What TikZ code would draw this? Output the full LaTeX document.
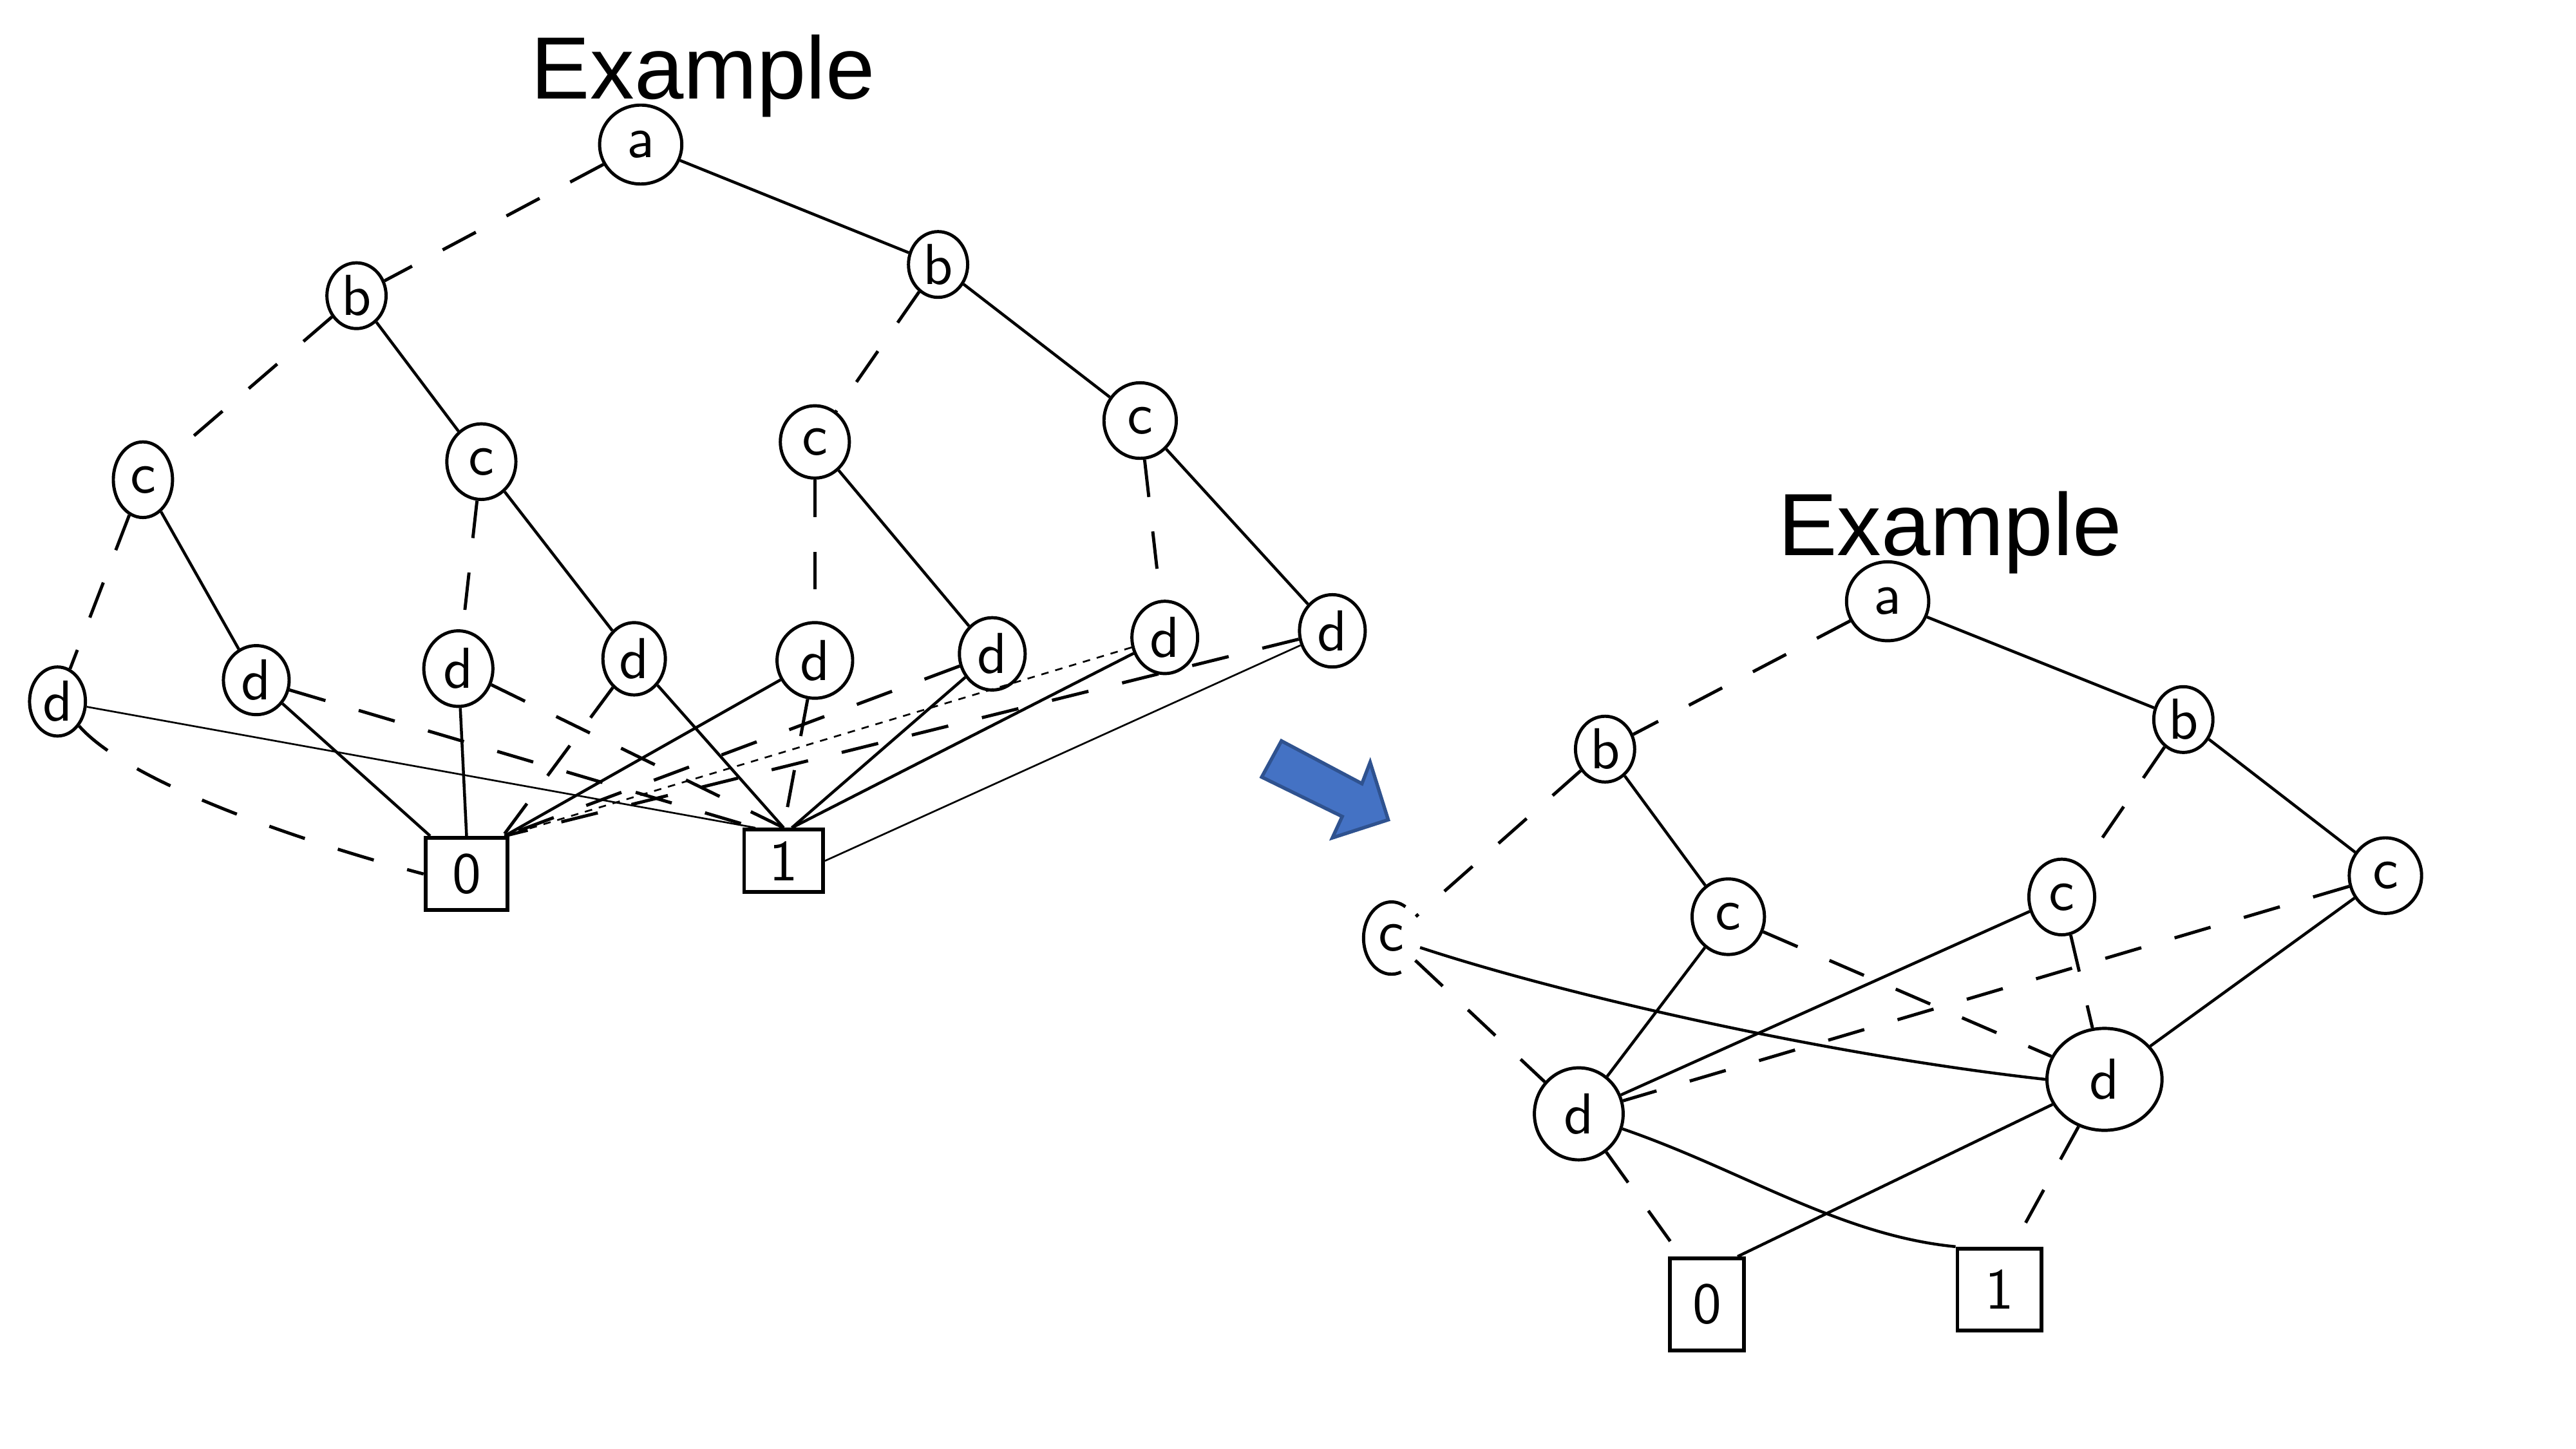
\documentclass[tikz,border=0pt]{standalone}
\usepackage{fontspec}
\setmainfont{Liberation Sans}
\usetikzlibrary{shapes.geometric,calc}
\definecolor{arrowblue}{HTML}{4472C4}
\definecolor{arrowedge}{HTML}{2F528F}
\begin{document}
\begin{tikzpicture}[x=0.01cm,y=-0.01cm,
  vnode/.style={ellipse,draw,line width=0.55pt,inner sep=0pt,font=\sffamily\fontsize{10}{11}\selectfont},
  term/.style={rectangle,draw,line width=0.65pt,inner sep=0pt,font=\sffamily\fontsize{10}{11}\selectfont},
  hi/.style={line width=0.5pt},
  lo/.style={line width=0.55pt,dash pattern=on 6.5pt off 6pt},
  thinhi/.style={line width=0.3pt},
  finelo/.style={line width=0.3pt,dash pattern=on 1.3pt off 1.2pt},
  titletext/.style={font=\fontsize{15.3}{18}\selectfont,anchor=base}]
\useasboundingbox (0,0) rectangle (1568,882);

% ---------- left diagram ----------
\node[titletext] (t1) at (428,60) {Example};
\node[vnode,minimum width=0.50cm,minimum height=0.48cm] (a)  at (390,88) {a};
\node[vnode,minimum width=0.36cm,minimum height=0.40cm] (bL) at (217,180) {b};
\node[vnode,minimum width=0.36cm,minimum height=0.40cm] (bR) at (571,161) {b};
\node[vnode,minimum width=0.36cm,minimum height=0.46cm] (c1) at (87,292) {c};
\node[vnode,minimum width=0.42cm,minimum height=0.46cm] (c2) at (293,281) {c};
\node[vnode,minimum width=0.42cm,minimum height=0.44cm] (c3) at (496,269) {c};
\node[vnode,minimum width=0.44cm,minimum height=0.46cm] (c4) at (694,256) {c};
\node[vnode,minimum width=0.34cm,minimum height=0.42cm] (d1) at (35,427) {d};
\node[vnode,minimum width=0.40cm,minimum height=0.42cm] (d2) at (156,414) {d};
\node[vnode,minimum width=0.42cm,minimum height=0.46cm] (d3) at (279,407) {d};
\node[vnode,minimum width=0.38cm,minimum height=0.44cm] (d4) at (386,401) {d};
\node[vnode,minimum width=0.46cm,minimum height=0.46cm] (d5) at (496,402) {d};
\node[vnode,minimum width=0.40cm,minimum height=0.44cm] (d6) at (604,398) {d};
\node[vnode,minimum width=0.40cm,minimum height=0.44cm] (d7) at (709,388) {d};
\node[vnode,minimum width=0.40cm,minimum height=0.44cm] (d8) at (811,384) {d};
\node[term,minimum width=0.50cm,minimum height=0.44cm] (zero) at (284,532) {0};
\node[term,minimum width=0.48cm,minimum height=0.38cm] (one) at (477,524) {1};

\draw[lo] (a) -- (bL);
\draw[hi] (a) -- (bR);
\draw[lo] (bL) -- (c1);
\draw[hi] (bL) -- (c2);
\draw[lo] (bR) -- (c3);
\draw[hi] (bR) -- (c4);
\draw[lo] (c1) -- (d1);
\draw[hi] (c1) -- (d2);
\draw[lo] (c2) -- (d3);
\draw[hi] (c2) -- (d4);
\draw[lo] (c3) -- (d5);
\draw[hi] (c3) -- (d6);
\draw[lo] (c4) -- (d7);
\draw[hi] (c4) -- (d8);

\draw[lo] (d1) .. controls (80,478) and (190,514) .. (zero.west);
\draw[thinhi] (d1) -- ([xshift=0.08cm]one.north west);
\draw[hi] (d2) -- ([xshift=0.04cm]zero.north west);
\draw[lo] (d2) -- ([xshift=0.08cm]one.north west);
\draw[hi] (d3) -- (zero.north);
\draw[lo] (d3) -- (one.north);
\draw[lo] (d4) -- ([xshift=-0.04cm]zero.north east);
\draw[hi] (d4) -- (one.north);
\draw[hi] (d5) -- ([xshift=-0.03cm]zero.north east);
\draw[lo] (d5) -- (one.north);
\draw[lo] (d6) -- ([xshift=-0.03cm]zero.north east);
\draw[hi] (d6) -- ([xshift=0.05cm]one.north);
\draw[finelo] (d7) -- ([xshift=-0.03cm]zero.north east);
\draw[hi] (d7) -- ([xshift=0.05cm]one.north);
\draw[lo] (d8) -- ([xshift=-0.03cm]zero.north east);
\draw[thinhi] (d8) -- (one.east);

% ---------- block arrow ----------
\filldraw[fill=arrowblue,draw=arrowedge,line width=0.6pt,line join=miter]
  (768,473) -- (780,451) -- (829,477) -- (834,464) -- (845,499) -- (811,510) -- (817,497) -- cycle;

% ---------- right diagram ----------
\node[titletext] (t2) at (1187,338) {Example};
\node[vnode,minimum width=0.50cm,minimum height=0.48cm] (ra)  at (1149,366) {a};
\node[vnode,minimum width=0.36cm,minimum height=0.40cm] (rbL) at (977,456) {b};
\node[vnode,minimum width=0.36cm,minimum height=0.40cm] (rbR) at (1329,438) {b};
\node[vnode,draw=none,minimum width=0.34cm,minimum height=0.44cm] (rc1) at (847,571) {c};
\draw[line width=0.55pt] (rc1) ++(60:0.17cm and 0.22cm) arc[start angle=60,end angle=290,x radius=0.17cm,y radius=0.22cm];
\node[vnode,minimum width=0.44cm,minimum height=0.46cm] (rc2) at (1052,558) {c};
\node[vnode,minimum width=0.40cm,minimum height=0.46cm] (rc3) at (1255,546) {c};
\node[vnode,minimum width=0.44cm,minimum height=0.46cm] (rc4) at (1452,533) {c};
\node[vnode,minimum width=0.54cm,minimum height=0.56cm] (rdL) at (961,678) {d};
\node[vnode,minimum width=0.70cm,minimum height=0.62cm] (rdR) at (1281,657) {d};
\node[term,minimum width=0.45cm,minimum height=0.56cm] (rzero) at (1039,794) {0};
\node[term,minimum width=0.51cm,minimum height=0.50cm] (rone) at (1217,785) {1};

\draw[lo] (ra) -- (rbL);
\draw[hi] (ra) -- (rbR);
\draw[lo] (rbL) -- (rc1);
\draw[hi] (rbL) -- (rc2);
\draw[lo] (rbR) -- (rc3);
\draw[hi] (rbR) -- (rc4);
\draw[lo] (rc1) -- (rdL);
\draw[hi] (rc1) .. controls (950,605) and (1110,642) .. (rdR.west);
\draw[hi] (rc2) -- (rdL);
\draw[lo] (rc2) -- (rdR);
\draw[hi] (rc3) -- (rdL);
\draw[lo] (rc3) -- (rdR);
\draw[lo] (rc4) -- (rdL);
\draw[hi] (rc4) -- (rdR);
\draw[lo] (rdL) -- ([xshift=0.08cm]rzero.north west);
\draw[hi] (rdL) .. controls (1060,712) and (1120,752) .. (rone.north west);
\draw[hi] (rdR) -- ([xshift=-0.05cm]rzero.north east);
\draw[lo] (rdR) -- ([xshift=0.08cm]rone.north);
\end{tikzpicture}
\end{document}
